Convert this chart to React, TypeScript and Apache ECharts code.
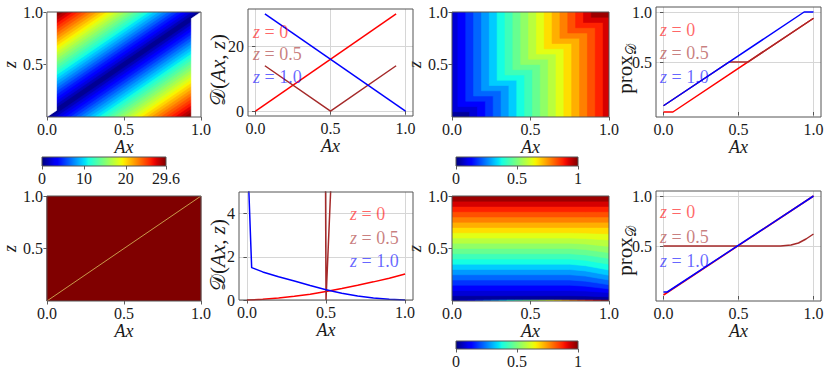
import React, { useEffect, useRef } from "react";
import * as echarts from "echarts";

// ---------- data ----------
const X_TICKS = [0, 0.5, 1];
const UNIT_Y_TICKS = [0.5, 1];
const D_TOP_TICKS = [0, 20];
const D_BOT_TICKS = [0, 2, 4];
const CBAR1_TICKS = [0, 10, 20, 29.6];
const CBAR2_TICKS = [0, 0.5, 1];

// top row: D(Ax, z) lines
const D_TOP_Z0 = [[0, 0], [0.9375, 30]];
const D_TOP_Z05 = [[0.0625, 14], [0.5, 0], [0.9375, 14]];
const D_TOP_Z1 = [[0.0625, 30], [1, 0]];
// top row: prox lines
const PROX_TOP_Z0 = [[0, 0], [0.0625, 0], [1, 0.9375]];
const PROX_TOP_Z05 = [[0, 0.0625], [0.4375, 0.5], [0.5625, 0.5], [1, 0.9375]];
const PROX_TOP_Z1 = [[0, 0.0625], [0.9375, 1], [1, 1]];
// bottom row: D(Ax, z) lines
const D_BOT_Z0 = [[0, 0], [0.1, 0.03], [0.2, 0.09], [0.3, 0.17], [0.4, 0.27], [0.5, 0.39], [0.6, 0.53], [0.7, 0.68], [0.8, 0.84], [0.9, 1.01], [1, 1.2]];
const D_BOT_Z05 = [[0.497, 5.5], [0.5, 0], [0.532, 5.5]];
const D_BOT_Z1 = [[0.01, 5.5], [0.03, 1.5], [0.1, 1.3], [0.2, 1.08], [0.3, 0.88], [0.4, 0.67], [0.5, 0.47], [0.6, 0.31], [0.7, 0.18], [0.8, 0.09], [0.9, 0.03], [1, 0]];
// bottom row: prox lines
const PROX_BOT_Z0 = [[0, 0.01], [1, 1]];
const PROX_BOT_Z05 = [[0, 0.5], [0.78, 0.5], [0.85, 0.51], [0.9, 0.53], [0.95, 0.57], [1, 0.62]];
const PROX_BOT_Z1 = [[0, 0.04], [0.025, 0.04], [1, 1]];

// heatmap parameters
const H1_VMAX = 29.6;
const H1_BANDS = 30;
const H1_DOMAIN = [0.0625, 0.9375];
const H2_BANDS = 20;
const H2_STEP = 0.0625;
const H4_BANDS = 20;
const H4_BEND_X = [0.75, 0.85, 0.92, 1.0];
const H4_BEND_FRAC = [0, 0.25, 0.6, 1.0];
const H4_DROP = [0, 0.01, 0.02, 0.035, 0.045, 0.05, 0.055, 0.055, 0.05, 0.045, 0.04, 0.03, 0.02, 0.01, 0, 0, 0, 0, 0, 0];
const DIAG = [[0, 0], [1, 1]];

// ---------- colour map ----------
const JET_R = [[0, 0], [0.35, 0], [0.66, 1], [0.89, 1], [1, 0.5]];
const JET_G = [[0, 0], [0.125, 0], [0.375, 1], [0.64, 1], [0.91, 0], [1, 0]];
const JET_B = [[0, 0.5], [0.11, 1], [0.34, 1], [0.65, 0], [1, 0]];
function interp(pts: number[][], t: number) {
  for (let i = 1; i < pts.length; i++) {
    if (t <= pts[i][0]) {
      const [a, va] = pts[i - 1];
      const [b, vb] = pts[i];
      return va + ((vb - va) * (t - a)) / (b - a);
    }
  }
  return pts[pts.length - 1][1];
}
function jet(t: number) {
  const u = Math.max(0, Math.min(1, t));
  const c = (p: number[][]) => Math.round(interp(p, u) * 255);
  return `rgb(${c(JET_R)},${c(JET_G)},${c(JET_B)})`;
}
const band = (k: number, n: number) => jet((k + 0.5) / n);

type Poly = { pts: number[][]; color: string };

function buildH1(): Poly[] {
  const slope = D_TOP_Z0[1][1] / D_TOP_Z0[1][0];
  const polys: Poly[] = [{ pts: [[0, 0], [1, 0], [1, 1], [0, 1]], color: band(0, H1_BANDS) }];
  for (let k = 1; k < H1_BANDS; k++) {
    const d = (k * H1_VMAX) / H1_BANDS / slope;
    const c = band(k, H1_BANDS);
    polys.push({ pts: [[0, d], [0, 1], [1 - d, 1]], color: c });
    polys.push({ pts: [[d, 0], [1, 0], [1, 1 - d]], color: c });
  }
  const [x0, x1] = H1_DOMAIN;
  polys.push({ pts: [[-0.01, -0.01], [x0, x0], [x0, 1.01], [-0.01, 1.01]], color: "#ffffff" });
  polys.push({ pts: [[x1, -0.01], [1.01, -0.01], [1.01, 1.01], [x1, x1]], color: "#ffffff" });
  return polys;
}
function buildH2(): Poly[] {
  const polys: Poly[] = [{ pts: [[0, 0], [1, 0], [1, 1], [0, 1]], color: band(0, H2_BANDS) }];
  for (let k = 1; k < H2_BANDS; k++) {
    const c = k / H2_BANDS;
    polys.push({
      pts: [[c - H2_STEP, 1.01], [1.01, 1.01], [1.01, -0.01], [c + H2_STEP, -0.01], [c + H2_STEP, c], [c - H2_STEP, c]],
      color: band(k, H2_BANDS),
    });
  }
  return polys;
}
function buildH3(): Poly[] {
  return [{ pts: [[0, 0], [1, 0], [1, 1], [0, 1]], color: jet(1) }];
}
function buildH4(): Poly[] {
  const polys: Poly[] = [{ pts: [[0, 0], [1, 0], [1, 1], [0, 1]], color: band(0, H4_BANDS) }];
  for (let k = 1; k < H4_BANDS; k++) {
    const c = k / H4_BANDS;
    const drop = H4_DROP[k];
    const contour = H4_BEND_X.map((bx, j) => [bx, c - drop * H4_BEND_FRAC[j]]);
    polys.push({
      pts: [[-0.01, c], [0, c], ...contour, [1.01, c - drop], [1.01, 1.01], [-0.01, 1.01]],
      color: band(k, H4_BANDS),
    });
  }
  for (let k = 0; k < H4_BANDS; k++) {
    const a = k / H4_BANDS, b = (k + 1) / H4_BANDS;
    polys.push({ pts: [[a, 0], [b, 0], [b, 0.008], [a, 0.008]], color: band(k, H4_BANDS) });
  }
  return polys;
}

// ---------- styling ----------
const FONT = "'Liberation Serif', 'Times New Roman', serif";
const TXT = "#1a1a1a";
const RED = "#ff0000";
const BROWN = "#a52a2a";
const BLUE = "#0000ff";

const GRIDS = [
  { left: 43, top: 12, width: 158, height: 105 },
  { left: 248, top: 9, width: 165, height: 107 },
  { left: 452, top: 12, width: 157, height: 105 },
  { left: 656, top: 7, width: 165, height: 110 },
  { left: 43, top: 196, width: 158, height: 105 },
  { left: 239, top: 192, width: 174, height: 108 },
  { left: 452, top: 196, width: 157, height: 105 },
  { left: 656, top: 191, width: 165, height: 110 },
  { left: 42, top: 157, width: 124, height: 9 },
  { left: 456, top: 157, width: 122, height: 9 },
  { left: 456, top: 341, width: 122, height: 8 },
];

const labelStyle = { fontFamily: FONT, fontSize: 16, color: TXT };
const tickStyle = { show: true, length: 3.5, inside: false, lineStyle: { color: "#333", width: 0.8 } };
const splitStyle = { show: true, lineStyle: { color: "#d6d6d6", width: 1 } };
const italicName = { fontFamily: FONT, fontSize: 18, fontStyle: "italic", color: TXT };

function xAxis(gi: number, min: number, max: number, ticks: number[], fmt: (v: number) => string, opts: any = {}) {
  return {
    gridIndex: gi, type: "value", min, max,
    axisLine: { show: false },
    axisTick: { ...tickStyle, customValues: ticks },
    axisLabel: { ...labelStyle, margin: 4, customValues: ticks, formatter: fmt },
    splitLine: { show: false },
    ...opts,
  };
}
function yAxis(gi: number, min: number, max: number, ticks: number[], fmt: (v: number) => string, opts: any = {}) {
  return {
    gridIndex: gi, type: "value", min, max,
    axisLine: { show: false },
    axisTick: { ...tickStyle, customValues: ticks },
    axisLabel: { ...labelStyle, margin: 4, customValues: ticks, formatter: fmt },
    splitLine: { show: false },
    ...opts,
  };
}
const f1 = (v: number) => v.toFixed(1);
const f0 = (v: number) => String(v);
const xName = { name: "Ax", nameLocation: "middle", nameGap: 16, nameTextStyle: italicName };
const zName = (gap: number) => ({ name: "z", nameLocation: "middle", nameGap: gap, nameTextStyle: italicName });

function polySeries(polys: Poly[], idx: number) {
  return {
    type: "custom", xAxisIndex: idx, yAxisIndex: idx, clip: true, silent: true, z: 1,
    data: [[0.5, 0.5]],
    renderItem: (_p: any, api: any) => ({
      type: "group",
      children: polys.map((p) => ({
        type: "polygon",
        shape: { points: p.pts.map((q) => api.coord(q)) },
        style: { fill: p.color, stroke: p.color, lineWidth: 0.6 },
      })),
    }),
  };
}
function lineSeries(data: number[][], idx: number, color: string) {
  return {
    type: "line", xAxisIndex: idx, yAxisIndex: idx, data, showSymbol: false, symbol: "none",
    clip: true, silent: true, z: 3, lineStyle: { color, width: 1.5 },
  };
}
function cbarSeries(idx: number, vmax: number) {
  const stops = [] as any[];
  for (let i = 0; i <= 40; i++) stops.push({ offset: i / 40, color: jet(i / 40) });
  return {
    type: "custom", xAxisIndex: idx, yAxisIndex: idx, clip: true, silent: true, z: 1,
    data: [[0, 0]],
    renderItem: (_p: any, api: any) => {
      const a = api.coord([0, 1]);
      const b = api.coord([vmax, 0]);
      return {
        type: "rect",
        shape: { x: a[0], y: a[1], width: b[0] - a[0], height: b[1] - a[1] },
        style: { fill: new echarts.graphic.LinearGradient(0, 0, 1, 0, stops) },
      };
    },
  };
}
function zLabel(x: number, y: number, val: string, color: string) {
  return {
    type: "text", x, y, z: 50, silent: true,
    style: {
      text: `{i|z} = ${val}`, verticalAlign: "middle", align: "left", fill: color,
      fontFamily: FONT, fontSize: 18,
      rich: {
        i: { fontFamily: FONT, fontSize: 18, fontStyle: "italic", fill: color, color },
      },
    },
  };
}
function dLabel(x: number, y: number) {
  return {
    type: "text", x, y, rotation: Math.PI / 2, z: 50, silent: true,
    style: {
      text: "{c|𝒟}({i|Ax}, {i|z})", align: "center", verticalAlign: "middle", fill: TXT,
      fontFamily: FONT, fontSize: 21,
      rich: {
        c: { fontFamily: FONT, fontSize: 21, fill: TXT },
        i: { fontFamily: FONT, fontSize: 21, fontStyle: "italic", fill: TXT },
      },
    },
  };
}
function proxLabel(x: number, y: number) {
  return {
    type: "text", x, y, rotation: Math.PI / 2, z: 50, silent: true,
    style: {
      text: "{r|prox}{s|𝒟}", align: "center", verticalAlign: "middle", fill: TXT,
      fontFamily: FONT, fontSize: 21,
      rich: {
        r: { fontFamily: FONT, fontSize: 21, fill: TXT, verticalAlign: "middle", lineHeight: 26 },
        s: { fontFamily: FONT, fontSize: 14, fill: TXT, verticalAlign: "bottom", lineHeight: 14 },
      },
    },
  };
}
const RED_A = "rgba(255,0,0,0.6)";
const BROWN_A = "rgba(165,42,42,0.6)";
const BLUE_A = "rgba(0,0,255,0.6)";

export default function App() {
  const ref = useRef<HTMLDivElement>(null);
  useEffect(() => {
    const chart = echarts.init(ref.current!, null, { renderer: "svg" });
    const grids = GRIDS.map((g) => ({
      ...g, show: true, borderColor: "#555", borderWidth: 1, backgroundColor: "transparent", z: 10,
    }));
    const option: any = {
      animation: false,
      textStyle: { fontFamily: FONT },
      grid: grids,
      xAxis: [
        xAxis(0, 0, 1, X_TICKS, f1, xName),
        xAxis(1, -0.05, 1.05, X_TICKS, f1, { ...xName, splitLine: splitStyle }),
        xAxis(2, 0, 1, X_TICKS, f1, xName),
        xAxis(3, -0.05, 1.05, X_TICKS, f1, { ...xName, splitLine: splitStyle }),
        xAxis(4, 0, 1, X_TICKS, f1, xName),
        xAxis(5, -0.05, 1.05, X_TICKS, f1, { ...xName, splitLine: splitStyle }),
        xAxis(6, 0, 1, X_TICKS, f1, xName),
        xAxis(7, -0.05, 1.05, X_TICKS, f1, { ...xName, splitLine: splitStyle }),
        xAxis(8, 0, H1_VMAX, CBAR1_TICKS, f0),
        xAxis(9, 0, 1, CBAR2_TICKS, f0),
        xAxis(10, 0, 1, CBAR2_TICKS, f0),
      ],
      yAxis: [
        yAxis(0, 0, 1, UNIT_Y_TICKS, f1, zName(26)),
        yAxis(1, -1.5, 31.5, D_TOP_TICKS, f0, { splitLine: splitStyle }),
        yAxis(2, 0, 1, UNIT_Y_TICKS, f1, zName(26)),
        yAxis(3, -0.05, 1.05, UNIT_Y_TICKS, f1, { splitLine: splitStyle }),
        yAxis(4, 0, 1, UNIT_Y_TICKS, f1, zName(26)),
        yAxis(5, 0, 5, D_BOT_TICKS, f0, { splitLine: splitStyle }),
        yAxis(6, 0, 1, UNIT_Y_TICKS, f1, zName(26)),
        yAxis(7, -0.05, 1.05, UNIT_Y_TICKS, f1, { splitLine: splitStyle }),
        { gridIndex: 8, type: "value", min: 0, max: 1, show: false },
        { gridIndex: 9, type: "value", min: 0, max: 1, show: false },
        { gridIndex: 10, type: "value", min: 0, max: 1, show: false },
      ],
      series: [
        polySeries(buildH1(), 0),
        lineSeries(D_TOP_Z0, 1, RED),
        lineSeries(D_TOP_Z05, 1, BROWN),
        lineSeries(D_TOP_Z1, 1, BLUE),
        polySeries(buildH2(), 2),
        lineSeries(PROX_TOP_Z0, 3, RED),
        lineSeries(PROX_TOP_Z05, 3, BROWN),
        lineSeries(PROX_TOP_Z1, 3, BLUE),
        polySeries(buildH3(), 4),
        { ...lineSeries(DIAG, 4, "#c99a4a"), lineStyle: { color: "#c99a4a", width: 1 } },
        lineSeries(D_BOT_Z0, 5, RED),
        lineSeries(D_BOT_Z05, 5, BROWN),
        lineSeries(D_BOT_Z1, 5, BLUE),
        polySeries(buildH4(), 6),
        lineSeries(PROX_BOT_Z0, 7, RED),
        lineSeries(PROX_BOT_Z05, 7, BROWN),
        lineSeries(PROX_BOT_Z1, 7, BLUE),
        cbarSeries(8, H1_VMAX),
        cbarSeries(9, 1),
        cbarSeries(10, 1),
      ],
      graphic: [
        dLabel(218, 70),
        dLabel(218, 255),
        proxLabel(625, 69),
        proxLabel(625, 251),
        zLabel(253, 32, "0", RED_A),
        zLabel(253, 54, "0.5", BROWN_A),
        zLabel(253, 77, "1.0", BLUE_A),
        zLabel(660, 30, "0", RED_A),
        zLabel(660, 53, "0.5", BROWN_A),
        zLabel(660, 77, "1.0", BLUE_A),
        zLabel(350, 214, "0", RED_A),
        zLabel(350, 238, "0.5", BROWN_A),
        zLabel(350, 261, "1.0", BLUE_A),
        zLabel(660, 212, "0", RED_A),
        zLabel(660, 237, "0.5", BROWN_A),
        zLabel(660, 261, "1.0", BLUE_A),
      ],
    };
    chart.setOption(option);
    return () => chart.dispose();
  }, []);
  return <div ref={ref} style={{ position: "absolute", left: 0, top: 0, width: 830, height: 379, background: "#fff" }} />;
}
